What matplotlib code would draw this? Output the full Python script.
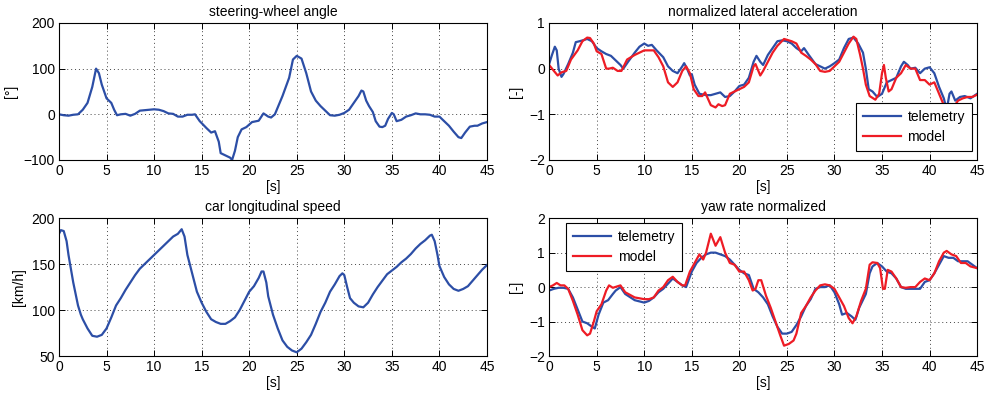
import matplotlib
matplotlib.use("Agg")
import matplotlib.pyplot as plt

# steering-wheel angle [deg]
t_steer = [0, 0.5, 1, 1.5, 2, 2.5, 3, 3.5, 3.9, 4.2, 4.5, 5, 5.5, 5.8, 6.1, 6.5, 7, 7.5, 8,
           8.5, 9, 10, 10.5, 11, 11.5, 12, 12.5, 13, 13.5, 14, 14.3, 14.8, 15.5, 16, 16.4,
           16.8, 17, 17.5, 18, 18.2, 18.5, 18.8, 19.2, 19.7, 20.3, 21, 21.5, 22, 22.3, 22.7,
           23.5, 24.2, 24.6, 25, 25.5, 26, 26.5, 27, 27.5, 28, 28.5, 29, 29.5, 30, 30.5, 31,
           31.5, 31.8, 32, 32.3, 32.6, 33, 33.3, 33.7, 34, 34.3, 34.6, 35, 35.2, 35.5, 36,
           36.5, 37, 37.5, 38, 38.5, 39, 39.5, 40, 40.5, 41, 41.5, 42, 42.3, 42.7, 43.2,
           43.7, 44, 44.5, 45]
steer = [0, -2, -3, -1, 0, 10, 25, 60, 100, 90, 65, 35, 25, 10, -2, 0, 1, -3, 1,
         8, 9, 11, 10, 7, 2, 1, -5, -5, -1, -1, 0, -15, -30, -40, -37,
         -60, -85, -90, -95, -100, -80, -50, -33, -28, -17, -14, 2, -5, -7, 0,
         40, 80, 120, 128, 122, 90, 50, 30, 18, 8, -2, -3, -1, 3, 10, 25,
         40, 52, 50, 30, 18, 5, -15, -27, -28, -25, -10, 3, 0, -15, -12,
         -5, -2, 2, 0, 0, -1, -5, -5, -15, -25, -38, -50, -52, -40, -27,
         -25, -25, -20, -17]

# car longitudinal speed [km/h]
t_speed = [0, 0.2, 0.5, 0.8, 1, 1.5, 2, 2.3, 2.5, 3, 3.5, 4, 4.5, 5, 5.5, 6, 6.5, 7, 7.5, 8,
           8.5, 9, 9.5, 10, 10.5, 11, 11.5, 12, 12.5, 12.9, 13.2, 13.5, 14, 14.5, 15, 15.5,
           16, 16.5, 17, 17.5, 18, 18.5, 19, 19.5, 20, 20.5, 21, 21.3, 21.5, 21.8, 22, 22.5,
           23, 23.5, 24, 24.5, 25, 25.5, 26, 26.5, 27, 27.5, 28, 28.5, 29, 29.5, 29.8, 30,
           30.3, 30.6, 31, 31.5, 32, 32.5, 33, 33.5, 34, 34.5, 35, 35.5, 36, 36.5, 37, 37.5,
           38, 38.5, 39, 39.2, 39.5, 39.8, 40, 40.5, 41, 41.5, 42, 42.5, 43, 43.5, 44, 44.5, 45]
speed = [183, 187, 186, 175, 160, 130, 105, 95, 90, 80, 72, 71, 73, 80, 92, 105, 113, 122, 130, 138,
         145, 150, 155, 160, 165, 170, 175, 180, 183, 188, 180, 160, 140, 120, 108, 98,
         90, 87, 85, 85, 88, 92, 100, 110, 120, 126, 135, 142, 142, 130, 115, 95,
         80, 67, 60, 56, 54, 58, 65, 73, 85, 98, 108, 120, 128, 137, 140, 138,
         125, 113, 108, 104, 103, 108, 117, 125, 132, 139, 143, 147, 152, 156, 161, 167,
         172, 176, 181, 182, 175, 160, 148, 136, 128, 123, 121, 123, 126, 132, 138, 144, 149]

# normalized lateral acceleration [-]
t_ay_tel = [0, 0.3, 0.6, 0.8, 1.0, 1.3, 1.5, 2, 2.5, 2.8, 3.2, 3.7, 4, 4.5, 5, 5.5, 6, 6.5, 7,
            7.5, 7.8, 8.3, 9, 9.5, 10, 10.4, 10.8, 11.3, 12, 12.5, 13, 13.5, 14, 14.2, 14.5,
            14.8, 15, 15.3, 15.8, 16.5, 17, 17.5, 18, 18.5, 19, 19.5, 20, 20.5, 21, 21.5,
            21.8, 22.2, 22.5, 23, 23.5, 24, 24.5, 25, 25.5, 26, 26.5, 26.8, 27.3, 28, 28.5,
            29, 29.5, 30, 30.5, 31, 31.5, 32, 32.5, 33, 33.3, 33.6, 34, 34.5, 35, 35.5, 36,
            36.5, 37, 37.3, 37.7, 38, 38.5, 39, 39.5, 40, 40.5, 41, 41.5, 41.8, 42.1, 42.3,
            42.7, 43.2, 43.7, 44.3, 45]
ay_tel = [0.1, 0.3, 0.48, 0.4, 0.0, -0.18, -0.12, 0.1, 0.35, 0.58, 0.6, 0.63, 0.65, 0.6, 0.45, 0.38, 0.32, 0.28, 0.18,
          0.08, 0.0, 0.15, 0.35, 0.48, 0.55, 0.5, 0.52, 0.4, 0.25, 0.05, -0.05, -0.1, 0.05, 0.12, 0.0,
          -0.15, -0.12, -0.35, -0.55, -0.58, -0.58, -0.55, -0.52, -0.62, -0.6, -0.5, -0.38, -0.35, -0.2, 0.15,
          0.28, 0.15, 0.08, 0.3, 0.45, 0.6, 0.62, 0.6, 0.55, 0.45, 0.38, 0.45, 0.3, 0.1, 0.05,
          0.0, 0.05, 0.12, 0.2, 0.45, 0.65, 0.68, 0.55, 0.35, 0.0, -0.45, -0.5, -0.62, -0.55, -0.3, -0.25,
          -0.2, 0.05, 0.15, 0.08, 0.0, 0.02, -0.1, 0.0, 0.03, -0.1, -0.4, -0.65, -0.9, -0.55, -0.5,
          -0.7, -0.62, -0.6, -0.65, -0.55]
t_ay_mod = [0, 0.5, 0.9, 1.3, 1.8, 2.3, 3, 3.5, 4, 4.3, 4.7, 5, 5.5, 6, 6.3, 6.7, 7.2, 7.6, 8.2,
            9, 10, 11, 11.5, 12, 12.5, 13, 13.5, 14, 14.4, 14.8, 15.2, 15.7, 16.1, 16.4, 17,
            17.5, 17.8, 18.2, 18.5, 19, 19.5, 20, 20.5, 21, 21.5, 21.7, 22.2, 22.5, 23, 23.5,
            24, 24.7, 25.5, 26, 26.5, 27, 27.5, 28, 28.5, 29, 29.5, 30, 30.5, 31, 31.5, 32,
            32.3, 32.7, 33, 33.3, 33.7, 34.3, 34.7, 35, 35.2, 35.4, 35.7, 36, 36.5, 37, 37.5,
            38, 38.5, 39, 39.5, 40, 40.5, 41, 41.5, 42, 42.5, 43, 43.5, 44, 44.5, 45]
ay_mod = [0.08, -0.05, -0.15, -0.08, -0.05, 0.2, 0.4, 0.6, 0.68, 0.67, 0.55, 0.38, 0.32, 0.0, 0.0, 0.02, -0.05, -0.05, 0.2,
          0.3, 0.4, 0.4, 0.25, 0.05, -0.3, -0.4, -0.3, -0.05, 0.05, -0.1, -0.45, -0.6, -0.6, -0.52, -0.8,
          -0.85, -0.78, -0.82, -0.8, -0.55, -0.5, -0.45, -0.4, -0.3, 0.05, 0.1, -0.15, -0.05, 0.15, 0.35,
          0.5, 0.65, 0.6, 0.55, 0.35, 0.28, 0.2, 0.1, -0.05, -0.07, -0.05, 0.05, 0.15, 0.35, 0.55, 0.7,
          0.65, 0.3, 0.0, -0.35, -0.6, -0.68, -0.55, -0.1, 0.08, -0.2, -0.5, -0.45, -0.2, -0.1, 0.08,
          0.0, 0.0, -0.25, -0.25, -0.35, -0.3, -0.55, -0.8, -0.9, -0.85, -0.7, -0.65, -0.62, -0.62, -0.57]

# yaw rate normalized [-]
t_yaw_tel = [0, 0.5, 1, 1.5, 2, 2.5, 3, 3.5, 4, 4.5, 4.8, 5.2, 5.7, 6.2, 6.7, 7, 7.5, 8, 9, 10,
             10.5, 11, 11.5, 12, 12.5, 13, 13.5, 14, 14.4, 15, 15.5, 16, 16.5, 17, 17.5, 18,
             18.5, 19, 19.5, 20, 20.5, 21, 21.5, 22, 22.5, 23, 23.5, 24, 24.5, 25, 25.5, 26,
             26.5, 27, 27.5, 28, 28.5, 29, 29.5, 30, 30.5, 30.8, 31.3, 31.8, 32.2, 32.6, 33.3,
             33.7, 34, 34.5, 35, 35.5, 36, 36.5, 37, 37.5, 38, 38.5, 39, 39.5, 40, 40.5, 41,
             41.5, 42, 42.5, 43, 43.5, 44, 44.5, 45]
yaw_tel = [-0.1, -0.05, -0.02, -0.02, -0.05, -0.3, -0.65, -1.0, -1.05, -1.15, -1.2, -0.8, -0.45, -0.38, -0.2, -0.1, 0.0, -0.2, -0.38, -0.45,
           -0.4, -0.3, -0.15, -0.05, 0.1, 0.25, 0.15, 0.05, 0.0, 0.45, 0.7, 0.85, 0.95, 1.0, 1.0, 0.95,
           0.9, 0.8, 0.65, 0.5, 0.4, 0.35, -0.05, -0.15, -0.3, -0.5, -0.85, -1.15, -1.35, -1.35, -1.3, -1.1,
           -0.85, -0.55, -0.35, -0.05, 0.0, 0.0, 0.05, -0.15, -0.5, -0.8, -0.75, -0.85, -0.95, -0.6, -0.2,
           0.4, 0.6, 0.7, 0.6, 0.45, 0.4, 0.25, 0.0, -0.05, -0.05, -0.05, -0.05, 0.15, 0.2, 0.4, 0.65,
           0.9, 0.85, 0.85, 0.75, 0.75, 0.75, 0.65, 0.55]
t_yaw_mod = [0, 0.4, 0.8, 1.2, 1.6, 2, 2.5, 3, 3.5, 4, 4.3, 4.7, 5, 5.5, 6, 6.3, 6.7, 7.5, 8, 9,
             10, 10.5, 11, 11.5, 12, 12.5, 13, 13.5, 14, 14.3, 14.8, 15.3, 15.8, 16.2, 16.5, 17,
             17.5, 18, 18.5, 19, 19.5, 20, 20.5, 21, 21.4, 21.7, 22, 22.3, 22.8, 23.3, 23.8,
             24.3, 24.7, 25.2, 25.7, 26, 26.5, 27, 27.5, 28, 28.5, 29, 29.5, 30, 30.5, 31, 31.5,
             31.9, 32.3, 32.8, 33.3, 33.7, 34, 34.5, 34.8, 35.1, 35.3, 35.6, 36, 36.5, 37, 37.5,
             38, 38.5, 39, 39.5, 40, 40.5, 41, 41.5, 41.8, 42.3, 42.8, 43.3, 43.8, 44.3, 45]
yaw_mod = [0.0, 0.05, 0.12, 0.05, 0.05, -0.05, -0.4, -0.8, -1.25, -1.4, -1.35, -1.0, -0.7, -0.5, -0.1, 0.05, -0.02, 0.05, -0.15, -0.3,
           -0.35, -0.35, -0.3, -0.1, 0.0, 0.2, 0.3, 0.15, 0.05, 0.05, 0.45, 0.7, 0.95, 0.8, 1.0, 1.55,
           1.2, 1.45, 1.0, 0.7, 0.65, 0.45, 0.45, 0.2, -0.1, -0.05, 0.2, 0.2, -0.25, -0.6, -1.0,
           -1.4, -1.7, -1.65, -1.55, -1.35, -0.75, -0.55, -0.3, -0.1, 0.05, 0.08, 0.05, -0.05, -0.3, -0.55, -0.9,
           -1.05, -0.85, -0.4, -0.05, 0.65, 0.72, 0.7, 0.55, -0.05, -0.05, 0.5, 0.45, 0.25, 0.0, -0.02,
           0.0, 0.0, 0.15, 0.25, 0.2, 0.4, 0.75, 1.0, 1.05, 0.95, 0.9, 0.7, 0.7, 0.6, 0.55]

xticks = [0, 5, 10, 15, 20, 25, 30, 35, 40, 45]
blue = '#2c4ea6'
red = '#ee1c25'

plt.rcParams['font.family'] = ['Liberation Sans', 'DejaVu Sans']
plt.rcParams['font.size'] = 10

fig = plt.figure(figsize=(9.93, 3.96), dpi=100)
ax1 = fig.add_axes([0.0594, 0.596, 0.431, 0.346])
ax2 = fig.add_axes([0.553, 0.596, 0.431, 0.346])
ax3 = fig.add_axes([0.0594, 0.101, 0.431, 0.348])
ax4 = fig.add_axes([0.553, 0.101, 0.431, 0.348])


def style(ax, title, ylabel, yticks):
    ax.set_xlim(0, 45)
    ax.set_ylim(yticks[0], yticks[-1])
    ax.set_xticks(xticks)
    ax.set_yticks(yticks)
    ax.set_title(title, fontsize=10, pad=5)
    ax.set_xlabel('[s]', labelpad=1)
    ax.set_ylabel(ylabel, labelpad=4)
    ax.grid(True, linestyle=(0, (1, 3)), color='#444444', linewidth=0.7)
    ax.tick_params(direction='in', top=True, right=True, length=4, width=0.7, labelsize=10, pad=3)
    for s in ax.spines.values():
        s.set_linewidth(0.8)


def add_legend(ax, loc, anchor):
    leg = ax.legend(loc=loc, bbox_to_anchor=anchor, fancybox=False, edgecolor='black',
                    framealpha=1, borderaxespad=0, handlelength=2.7, handletextpad=0.5,
                    fontsize=10, labelspacing=0.45, borderpad=0.5)
    leg.get_frame().set_linewidth(0.8)


ax1.plot(t_steer, steer, color=blue, lw=1.6)
style(ax1, 'steering-wheel angle', '[°]', [-100, 0, 100, 200])

ax2.plot(t_ay_tel, ay_tel, color=blue, lw=1.6, label='telemetry')
ax2.plot(t_ay_mod, ay_mod, color=red, lw=1.6, label='model')
style(ax2, 'normalized lateral acceleration', '[-]', [-2, -1, 0, 1])
add_legend(ax2, 'lower right', (0.988, 0.065))

ax3.plot(t_speed, speed, color=blue, lw=1.6)
style(ax3, 'car longitudinal speed', '[km/h]', [50, 100, 150, 200])

ax4.plot(t_yaw_tel, yaw_tel, color=blue, lw=1.6, label='telemetry')
ax4.plot(t_yaw_mod, yaw_mod, color=red, lw=1.6, label='model')
style(ax4, 'yaw rate normalized', '[-]', [-2, -1, 0, 1, 2])
add_legend(ax4, 'upper left', (0.04, 0.964))

fig.savefig('out.png', dpi=100)
